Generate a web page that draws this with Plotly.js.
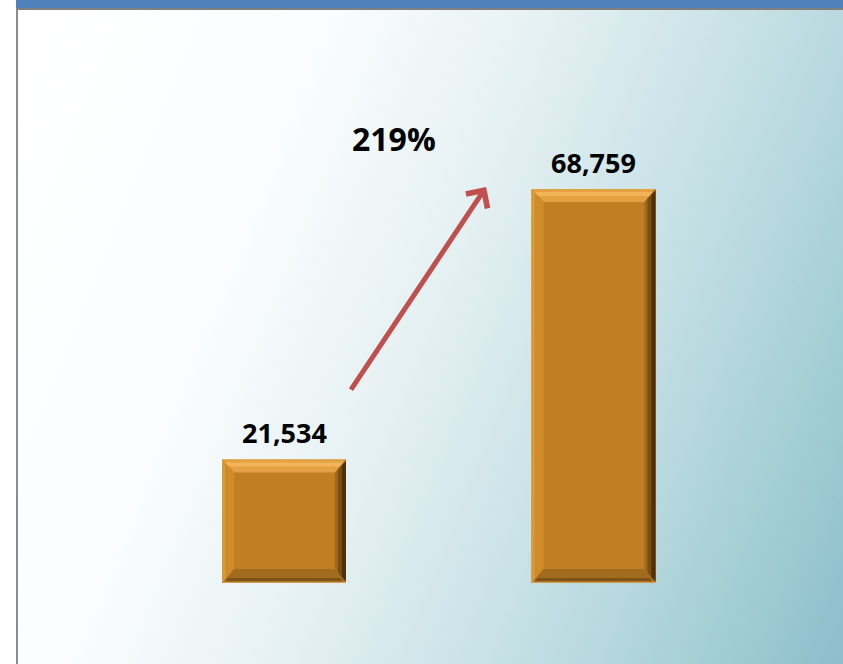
<!DOCTYPE html>
<html>
<head>
<meta charset="utf-8">
<script src="https://cdn.plot.ly/plotly-3.0.1.min.js"></script>
<style>
  html, body { margin:0; padding:0; background:#ffffff; width:843px; height:664px; overflow:hidden; }
  #frame { position:absolute; left:16px; top:0; width:827px; height:664px; }
  #topbar { position:absolute; left:0; top:0; right:0; height:8px; background:#4f81bd; }
  #panel { position:absolute; left:0; top:8px; right:0; bottom:0;
           border-top:2px solid #7f7f7f; border-left:2px solid #8c8c8c;
           background:linear-gradient(112deg, #ffffff 0%, #fbfdfe 28%, #e6f1f3 48%, #c3dfe4 70%, #a6cfd6 86%, #8dbecb 100%); }
  #chart { position:absolute; left:0; top:0; width:843px; height:664px; }
</style>
</head>
<body>
<div id="frame"><div id="topbar"></div><div id="panel"></div></div>
<div id="chart"></div>
<script>
// ---- data ----
const categories = ["Before", "After"];
const values = [21534, 68759];
const valueLabels = ["21,534", "68,759"];
const growthLabel = "219%";

// ---- layout constants ----
const W = 843, H = 664;
const margin = {l: 18, r: 0, t: 10, b: 81};
const yRange = [0, 100000];
const xRange = [-0.8595, 1.806];
const barWidth = 0.40;
const plotW = W - margin.l - margin.r, plotH = H - margin.t - margin.b;
const pxX = (xRange[1] - xRange[0]) / plotW;   // data units per px (x)
const pxY = (yRange[1] - yRange[0]) / plotH;   // data units per px (y)
const xs = categories.map((c, i) => i);

// bevel shapes built from the data through the axis scales
const shapes = [];
const bT = 13 * pxY, bB = 14 * pxY, bL = 12 * pxX, bR = 11 * pxX;
xs.forEach((x, i) => {
  const x0 = x - barWidth / 2, x1 = x + barWidth / 2, y0 = 0, y1 = values[i];
  const ix0 = x0 + bL, ix1 = x1 - bR, iy0 = y0 + bB, iy1 = y1 - bT;
  const P = pts => 'M' + pts.map(p => p[0] + ',' + p[1]).join('L') + 'Z';
  const add = (pts, color) => shapes.push({type: 'path', xref: 'x', yref: 'y', path: P(pts),
                                          fillcolor: color, line: {width: 0}, layer: 'above'});
  // top face
  add([[x0, y1], [x1, y1], [ix1, iy1], [ix0, iy1]], '#e4a142');
  add([[x0 + 2*pxX, y1 - 3*pxY], [x1 - 2*pxX, y1 - 3*pxY], [x1 - 6*pxX, y1 - 7*pxY], [x0 + 6*pxX, y1 - 7*pxY]], '#f1b458');
  // left face
  add([[x0, y1], [ix0, iy1], [ix0, iy0], [x0, y0]], '#cf8c2a');
  add([[x0, y1], [x0 + 3*pxX, y1 - 3*pxY], [x0 + 3*pxX, y0 + 3*pxY], [x0, y0]], '#da9a38');
  // right face (dark, fading inward)
  add([[x1, y1], [x1, y0], [ix1, iy0], [ix1, iy1]], '#a06a1d');
  add([[x1, y1 - 1*pxY], [x1, y0 + 1*pxY], [x1 - 8*pxX, y0 + 10*pxY], [x1 - 8*pxX, y1 - 10*pxY]], '#7a4f14');
  add([[x1, y1 - 2*pxY], [x1, y0 + 2*pxY], [x1 - 4*pxX, y0 + 6*pxY], [x1 - 4*pxX, y1 - 6*pxY]], '#4d310b');
  // bottom face
  add([[x0, y0], [ix0, iy0], [ix1, iy0], [x1, y0]], '#a26c1f');
  add([[x0 + 3*pxX, y0 + 1*pxY], [x0 + 6*pxX, y0 + 5*pxY], [x1 - 6*pxX, y0 + 5*pxY], [x1 - 3*pxX, y0 + 1*pxY]], '#7f5215');
  add([[x0, y0], [x1, y0], [x1, y0 + 1.5*pxY], [x0, y0 + 1.5*pxY]], '#d39a48');
});

const trace = {
  type: 'bar', x: xs, y: values, width: barWidth,
  marker: {color: '#c17f24', line: {width: 0}},
  hoverinfo: 'skip'
};

const annotations = xs.map((x, i) => ({
  x: x, y: values[i], xref: 'x', yref: 'y', text: '<b>' + valueLabels[i] + '</b>',
  showarrow: false, yanchor: 'middle', yshift: 27,
  font: {family: 'Open Sans, sans-serif', size: 27, color: '#000000'}
}));
annotations.push({
  x: 0.355, y: 77500, xref: 'x', yref: 'y', text: '<b>' + growthLabel + '</b>',
  showarrow: false, yanchor: 'middle',
  font: {family: 'Open Sans, sans-serif', size: 32, color: '#000000'}
});
// growth arrow
annotations.push({
  x: 0.653, y: 69100, xref: 'x', yref: 'y',
  ax: 0.213, ay: 33500, axref: 'x', ayref: 'y',
  text: '', showarrow: true, arrowhead: 4, arrowsize: 1, arrowwidth: 5,
  arrowcolor: '#c0504d', standoff: 0, startstandoff: 0
});

const layout = {
  width: W, height: H, margin: margin,
  paper_bgcolor: 'rgba(0,0,0,0)', plot_bgcolor: 'rgba(0,0,0,0)',
  showlegend: false,
  xaxis: {range: xRange, visible: false, fixedrange: true},
  yaxis: {range: yRange, visible: false, fixedrange: true},
  shapes: shapes, annotations: annotations
};
Plotly.newPlot('chart', [trace], layout, {staticPlot: true, displayModeBar: false});
</script>
</body>
</html>
